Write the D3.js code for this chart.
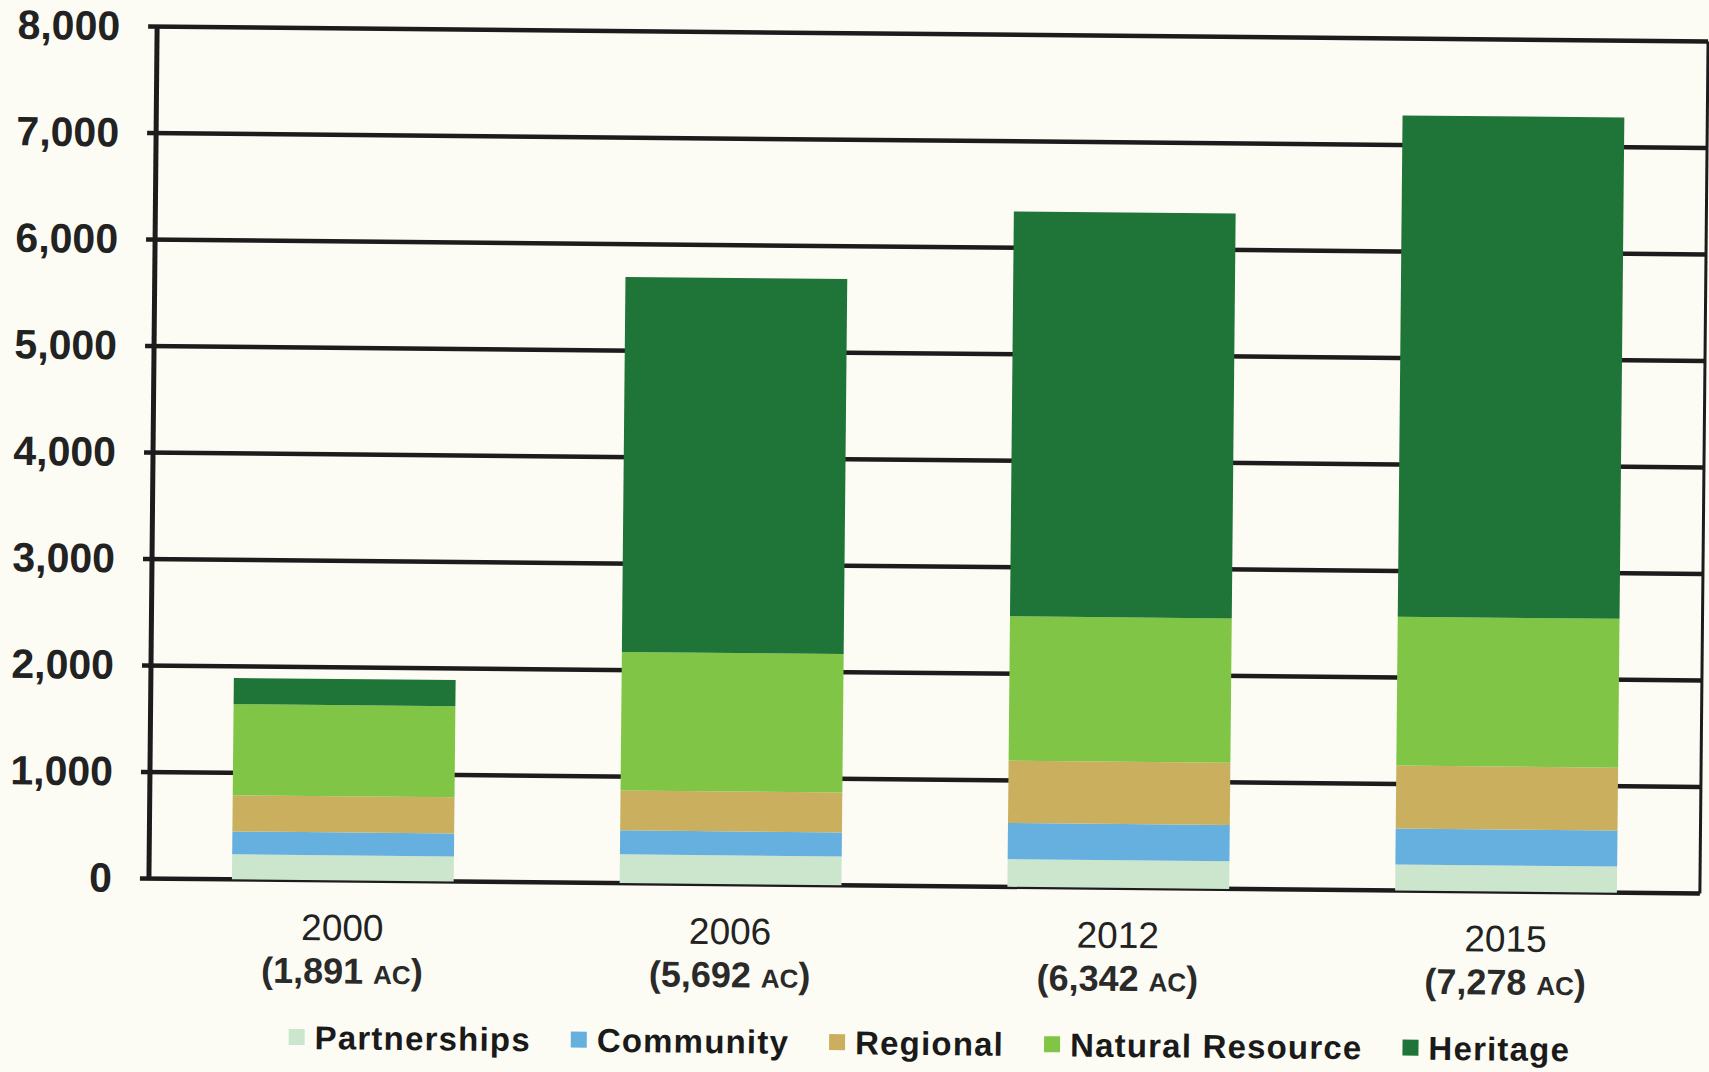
<!DOCTYPE html>
<html>
<head>
<meta charset="utf-8">
<script src="https://cdn.jsdelivr.net/npm/d3@7"></script>
<style>
  body { margin: 0; background: #fcfcf4; }
  svg { display: block; font-family: "Liberation Sans", Arial, sans-serif; }
</style>
</head>
<body>
<div id="chart"></div>
<script>
// data (acres)
var years = ["2000", "2006", "2012", "2015"];
var totals = ["1,891", "5,692", "6,342", "7,278"];
var seriesNames = ["Partnerships", "Community", "Regional", "Natural Resource", "Heritage"];
var partnerships = [235, 270, 260, 245];
var community = [215, 225, 340, 338];
var regional = [340, 375, 585, 590];
var naturalResource = [855, 1300, 1355, 1398];
var heritage = [246, 3522, 3802, 4707];
var yTicks = [0, 1000, 2000, 3000, 4000, 5000, 6000, 7000, 8000];
var colors = ["#cbe6cc", "#66b0df", "#c9af5e", "#80c545", "#1f7437"];

var svgWidth = 1709;
var svgHeight = 1072;

var margin = { top: 34, right: 5, bottom: 186, left: 153 };
var width = svgWidth - margin.left - margin.right;
var height = svgHeight - margin.top - margin.bottom;

var svg = d3.select("#chart")
  .append("svg")
  .attr("width", svgWidth)
  .attr("height", svgHeight);

svg.append("rect")
  .attr("width", svgWidth)
  .attr("height", svgHeight)
  .attr("fill", "#fcfcf4");

// the scan is tilted a little clockwise
var page = svg.append("g")
  .attr("transform", "rotate(0.55, 928, 460)");

var chartGroup = page.append("g")
  .attr("transform", `translate(${margin.left}, ${margin.top})`);

// build table for the stack
var table = years.map(function(y, i) {
  return {
    year: y,
    "Partnerships": partnerships[i],
    "Community": community[i],
    "Regional": regional[i],
    "Natural Resource": naturalResource[i],
    "Heritage": heritage[i]
  };
});

var stacked = d3.stack().keys(seriesNames)(table);

var xScale = d3.scaleBand()
  .domain(years)
  .range([0, width])
  .paddingInner(0.428)
  .paddingOuter(0.214);

var yScale = d3.scaleLinear()
  .domain([0, 8000])
  .range([height, 0]);

// gridlines (drawn under the bars)
chartGroup.append("g")
  .selectAll("line")
  .data(yTicks)
  .enter()
  .append("line")
  .attr("x1", -9)
  .attr("x2", width)
  .attr("y1", d => yScale(d))
  .attr("y2", d => yScale(d))
  .attr("stroke", "#1e1b1c")
  .attr("stroke-width", 4.5);

// left axis line + right border
chartGroup.append("line")
  .attr("x1", 0).attr("x2", 0)
  .attr("y1", yScale(8000)).attr("y2", yScale(0))
  .attr("stroke", "#1e1b1c")
  .attr("stroke-width", 5);

chartGroup.append("line")
  .attr("x1", width).attr("x2", width)
  .attr("y1", yScale(8000)).attr("y2", yScale(0))
  .attr("stroke", "#1e1b1c")
  .attr("stroke-width", 3);

// tick labels
var lftAxis = d3.axisLeft(yScale)
  .tickValues(yTicks)
  .tickFormat(d3.format(","))
  .tickSize(0)
  .tickPadding(37);

var yAxisG = chartGroup.append("g").call(lftAxis);
yAxisG.select(".domain").remove();
yAxisG.selectAll("text")
  .style("font-size", "41px")
  .style("font-weight", "bold")
  .style("fill", "#222")
  .style("font-family", "'Liberation Sans', Arial, sans-serif");

// stacked bars
chartGroup.selectAll(".series")
  .data(stacked)
  .enter()
  .append("g")
  .attr("class", "series")
  .attr("fill", (d, i) => colors[i])
  .selectAll("rect")
  .data(d => d)
  .enter()
  .append("rect")
  .attr("x", d => xScale(d.data.year))
  .attr("y", d => yScale(d[1]))
  .attr("width", xScale.bandwidth())
  .attr("height", d => yScale(d[0]) - yScale(d[1]));

// category labels
var catLabels = chartGroup.selectAll(".cat")
  .data(years)
  .enter()
  .append("g")
  .attr("class", "cat")
  .attr("transform", d => `translate(${xScale(d) + xScale.bandwidth() / 2}, 0)`);

catLabels.append("text")
  .attr("y", height + 60)
  .attr("text-anchor", "middle")
  .style("font-size", "37px")
  .style("fill", "#222")
  .text(d => d);

var line2 = catLabels.append("text")
  .attr("y", height + 103)
  .attr("text-anchor", "middle")
  .style("font-size", "36px")
  .style("font-weight", "bold")
  .style("fill", "#2a2a2a");

line2.append("tspan").text((d, i) => "(" + totals[i] + " ");
line2.append("tspan").style("font-size", "26px").text("AC");
line2.append("tspan").text(")");

// legend
var legend = page.append("g");

var items = legend.selectAll(".item")
  .data(seriesNames)
  .enter()
  .append("g")
  .attr("class", "item");

items.append("rect")
  .attr("y", -8)
  .attr("width", 16)
  .attr("height", 16)
  .attr("fill", (d, i) => colors[i]);

items.append("text")
  .attr("x", 26)
  .attr("y", 12)
  .style("font-size", "33px")
  .style("font-weight", "bold")
  .style("letter-spacing", "1.2px")
  .style("fill", "#1a1a1a")
  .text(d => d);

var gap = 40;
var cursor = 0;
items.each(function() {
  var w = 26 + this.querySelector("text").getComputedTextLength();
  d3.select(this).attr("transform", `translate(${cursor}, 0)`);
  cursor += w + gap;
});
var legendWidth = cursor - gap;
legend.attr("transform", `translate(${935 - legendWidth / 2}, 1043)`);
</script>
</body>
</html>
